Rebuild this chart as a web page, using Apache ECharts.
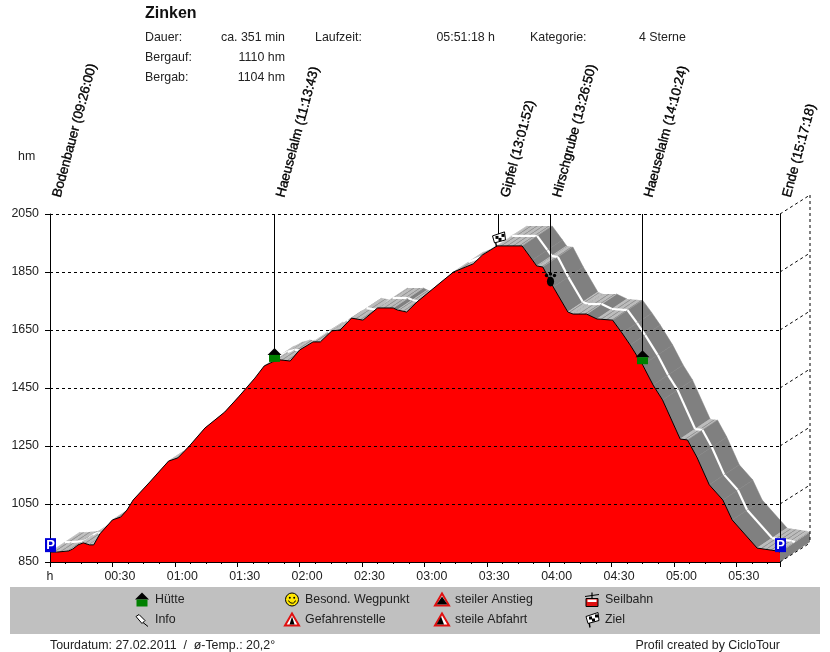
<!DOCTYPE html>
<html>
<head>
<meta charset="utf-8">
<style>html,body{margin:0;padding:0;background:#fff}#c{width:830px;height:652px}</style>
<script src="https://cdn.jsdelivr.net/npm/echarts@6/dist/echarts.min.js"></script>
</head>
<body>
<div id="c"></div>
<script>
// ---------- data ----------
var minutes = [0,3,9,11,13.5,16,19,21,24,30,34,37,40,48,57,61.5,67,74.5,84,91,98.5,103,107,110.5,115.5,120,126.5,130,135.5,139.5,145,150.5,157.5,165,167,171.5,176.5,187.5,194,203.5,208,215,227,232,234,237,242,249,251.5,258,263,270.5,275,279,285,290,294.5,303,306.5,311,317,323.5,328,340,349.5,351];
var elevation = [884,884,888,895,909,916,909,909,947,995,1005,1029,1064,1126,1198,1209,1250,1312,1367,1422,1484,1526,1540,1547,1543,1581,1609,1609,1647,1650,1691,1684,1726,1726,1719,1712,1747,1812,1850,1878,1909,1940,1940,1891,1871,1867,1798,1712,1705,1705,1688,1684,1640,1598,1529,1460,1409,1274,1271,1212,1116,1064,995,898,888,884];
var wayNames = ['Bodenbauer (09:26:00)','Haeuselalm (11:13:43)','Gipfel (13:01:52)','Hirschgrube (13:26:50)','Haeuselalm (14:10:24)','Ende (15:17:18)'];
var wayTimes = [0,107.5,215.5,240.5,284.5,351];
var wayElev = [884,1540,1940,1805,1532,884];
var wayIcons = ['park','hut','flag','paw','hut','park'];
var yTicks = [850,1050,1250,1450,1650,1850,2050];
var legendCol1 = ['Hütte','Info'];
var legendCol2 = ['Besond. Wegpunkt','Gefahrenstelle'];
var legendCol3 = ['steiler Anstieg','steile Abfahrt'];
var legendCol4 = ['Seilbahn','Ziel'];

// ---------- styling ----------
var FONT = '"Liberation Sans", Arial, sans-serif';
var TXT = '#222';
var DX = 30, DY = -20;

function hatch() {
  var c = document.createElement('canvas'); c.width = 6; c.height = 4;
  var g = c.getContext('2d');
  g.fillStyle = '#bcbcbc'; g.fillRect(0,0,6,4);
  g.strokeStyle = '#909090'; g.lineWidth = 1;
  g.beginPath(); g.moveTo(0,4); g.lineTo(6,0); g.stroke();
  return c;
}
var hatchFill = {image: hatch(), repeat: 'repeat'};

function icon(kind, cx, by) {
  var k = [];
  if (kind === 'hut') {
    k.push({type:'polygon',shape:{points:[[cx-7,by-7],[cx,by-14],[cx+7,by-7]]},style:{fill:'#000'}});
    k.push({type:'rect',shape:{x:cx-5.5,y:by-7,width:11,height:7},style:{fill:'#008000'}});
  } else if (kind === 'park') {
    k.push({type:'rect',shape:{x:cx-5.5,y:by-14,width:11,height:14},style:{fill:'#0000d8'}});
    k.push({type:'text',style:{text:'P',x:cx,y:by-7,align:'center',verticalAlign:'middle',fill:'#fff',font:'bold 13px '+FONT}});
  } else if (kind === 'flag') {
    k.push({type:'line',shape:{x1:cx-2,y1:by+1,x2:cx-4,y2:by-10},style:{stroke:'#000',lineWidth:1.4}});
    k.push({type:'polygon',shape:{points:[[cx-6,by-10],[cx+6,by-14],[cx+7,by-6],[cx-4,by-3]]},style:{fill:'#fff',stroke:'#000',lineWidth:1}});
    k.push({type:'rect',shape:{x:cx-3,y:by-10,width:3,height:3},style:{fill:'#000'}});
    k.push({type:'rect',shape:{x:cx+3,y:by-12,width:3,height:3},style:{fill:'#000'}});
    k.push({type:'rect',shape:{x:cx,y:by-8,width:3,height:3},style:{fill:'#000'}});
  } else if (kind === 'paw') {
    k.push({type:'ellipse',shape:{cx:cx,cy:by-3.5,rx:3.6,ry:5},style:{fill:'#000'}});
    [[-4,-9.5],[0,-11],[4,-9.5]].forEach(function (d) {
      k.push({type:'circle',shape:{cx:cx+d[0],cy:by+d[1],r:1.7},style:{fill:'#000'}});
    });
  } else if (kind === 'pin') {
    k.push({type:'polygon',shape:{points:[[cx-6,by-10],[cx-3,by-12],[cx+3,by-6],[cx,by-3]]},style:{fill:'#fff',stroke:'#000',lineWidth:1}});
    k.push({type:'line',shape:{x1:cx+1,y1:by-4,x2:cx+6,y2:by},style:{stroke:'#000',lineWidth:1}});
  } else if (kind === 'smile') {
    k.push({type:'circle',shape:{cx:cx,cy:by-7,r:6.5},style:{fill:'#ffe600',stroke:'#000',lineWidth:1}});
    k.push({type:'circle',shape:{cx:cx-2.2,cy:by-8.8,r:1},style:{fill:'#000'}});
    k.push({type:'circle',shape:{cx:cx+2.2,cy:by-8.8,r:1},style:{fill:'#000'}});
    k.push({type:'arc',shape:{cx:cx,cy:by-7,r:3.6,startAngle:0.3,endAngle:Math.PI-0.3},style:{fill:null,stroke:'#000',lineWidth:1}});
  } else if (kind === 'danger') {
    k.push({type:'polygon',shape:{points:[[cx,by-13],[cx+7,by-1],[cx-7,by-1]]},style:{fill:'#fff',stroke:'#e01010',lineWidth:2}});
    k.push({type:'polygon',shape:{points:[[cx,by-10],[cx+2.5,by-2],[cx-2.5,by-2]]},style:{fill:'#000'}});
  } else if (kind === 'up' || kind === 'down') {
    k.push({type:'polygon',shape:{points:[[cx,by-13],[cx+7,by-1],[cx-7,by-1]]},style:{fill:'#fff',stroke:'#e01010',lineWidth:2}});
    k.push({type:'polygon',shape:{points: kind === 'up' ? [[cx,by-10],[cx+5.5,by-2],[cx-5.5,by-2]] : [[cx-1,by-10],[cx+2,by-2],[cx-5.5,by-2]]},style:{fill:'#000'}});
  } else if (kind === 'cable') {
    k.push({type:'line',shape:{x1:cx-7,y1:by-10,x2:cx+7,y2:by-12},style:{stroke:'#000',lineWidth:1}});
    k.push({type:'line',shape:{x1:cx,y1:by-14,x2:cx,y2:by-8},style:{stroke:'#000',lineWidth:1.2}});
    k.push({type:'rect',shape:{x:cx-6,y:by-8,width:12,height:8},style:{fill:'#e01010',stroke:'#000',lineWidth:1}});
    k.push({type:'rect',shape:{x:cx-4.5,y:by-7,width:9,height:2.5},style:{fill:'#fff'}});
  }
  return k;
}

function text(t, x, y, extra) {
  var s = {text:t, x:x, y:y, fill:TXT, font:'12.4px '+FONT, verticalAlign:'middle', align:'left'};
  for (var e in extra) s[e] = extra[e];
  return {type:'text', silent:true, style:s};
}

var graphicEls = [
  {type:'rect',z:-1,silent:true,shape:{x:10,y:587,width:810,height:47},style:{fill:'#c0c0c0'}},
  text('Zinken',145,13.5,{font:'bold 16px '+FONT,fill:'#111'}),
  text('Dauer:',145,37.5), text('ca. 351 min',285,37.5,{align:'right'}),
  text('Laufzeit:',315,37.5), text('05:51:18 h',495,37.5,{align:'right'}),
  text('Kategorie:',530,37.5), text('4 Sterne',639,37.5),
  text('Bergauf:',145,57.5), text('1110 hm',285,57.5,{align:'right'}),
  text('Bergab:',145,77.5), text('1104 hm',285,77.5,{align:'right'}),
  text('hm',18,156.5),
  text('Tourdatum: 27.02.2011  /  ø-Temp.: 20,2°',50,645.5),
  text('Profil created by CicloTour',780,645.5,{align:'right'})
];
[[legendCol1,155,142,['hut','pin']],[legendCol2,305,292,['smile','danger']],[legendCol3,455,442,['up','down']],[legendCol4,605,592,['cable','flag']]].forEach(function (col) {
  col[0].forEach(function (t, i) {
    var y = 599.5 + i * 20;
    graphicEls.push(text(t, col[1], y));
    graphicEls.push({type:'group',silent:true,children:icon(col[3][i], col[2], y + 7)});
  });
});

var profile = minutes.map(function (m, i) { return [m, elevation[i]]; });
var segments = [];
for (var i = 0; i < minutes.length - 1; i++) segments.push([minutes[i], elevation[i], minutes[i+1], elevation[i+1]]);
var lastT = minutes[minutes.length-1], lastE = elevation[elevation.length-1];

var option = {
  animation:false,
  backgroundColor:'#fff',
  textStyle:{fontFamily:FONT},
  graphic:{elements:graphicEls},
  grid:{left:50,right:50,top:214,bottom:90,containLabel:false},
  xAxis:{type:'value',min:0,max:351,interval:30,z:3,
    axisLine:{onZero:false,lineStyle:{color:'#000',width:1}},
    axisTick:{length:5,lineStyle:{color:'#000'}},
    minorTick:{show:true,splitNumber:4,length:2,lineStyle:{color:'#000'}},
    splitLine:{show:false},minorSplitLine:{show:false},
    axisLabel:{margin:9,color:TXT,fontSize:12.4,fontFamily:FONT,showMaxLabel:false,hideOverlap:false,
      formatter:function (v) {
        if (v === 0) return 'h';
        if (v % 30) return '';
        var h = Math.floor(v/60), m = v%60;
        return '{t|0'+h+':'+(m<10?'0':'')+m+'}';
      },
      rich:{t:{padding:[0,0,0,15],color:TXT,fontSize:12.4,fontFamily:FONT}}
    }
  },
  yAxis:{type:'value',min:850,max:2050,interval:200,z:3,
    axisLine:{show:true,onZero:false,lineStyle:{color:'#000',width:1}},
    axisTick:{show:true,length:5,lineStyle:{color:'#000'}},
    axisLabel:{margin:11,color:TXT,fontSize:12.4,fontFamily:FONT,formatter:function (v) { return String(v); }},
    splitLine:{show:true,lineStyle:{color:'#000',type:[3,3],width:1}}
  },
  series:[
    {type:'custom',z:1,silent:true,coordinateSystem:'cartesian2d',data:segments,clip:false,
      encode:{x:[0,2],y:[1,3]},
      renderItem:function (p, api) {
        var a = api.coord([api.value(0),api.value(1)]), b = api.coord([api.value(2),api.value(3)]);
        var slope = (b[1]-a[1])/(b[0]-a[0]);
        var steep = slope > 0.45;
        var fill = steep ? '#808080' : hatchFill;
        var kids = [{type:'polygon',shape:{points:[a,b,[b[0]+DX,b[1]+DY],[a[0]+DX,a[1]+DY]]},style:{fill:fill,stroke:steep?'#808080':null,lineWidth:0.5}}];
        if (slope < 0.9) kids.push({type:'line',shape:{x1:a[0],y1:a[1],x2:a[0]+DX,y2:a[1]+DY},style:{stroke:'#c0c0c0',lineWidth:0.8}});
        kids.push({type:'line',shape:{x1:a[0]+DX/2,y1:a[1]+DY/2,x2:b[0]+DX/2,y2:b[1]+DY/2},style:{stroke:'#fff',lineWidth:2.2}});
        return {type:'group',children:kids};
      }
    },
    {type:'custom',z:1,silent:true,coordinateSystem:'cartesian2d',data:[[lastT,lastE]],clip:false,
      renderItem:function (p, api) {
        var a = api.coord([api.value(0),api.value(1)]), b = api.coord([api.value(0),850]);
        return {type:'polygon',shape:{points:[a,[a[0]+DX,a[1]+DY],[b[0]+DX,b[1]+DY],b]},style:{fill:'#808080'}};
      }
    },
    {type:'line',z:2,silent:true,data:profile,symbol:'none',smooth:false,
      lineStyle:{color:'#000',width:1},areaStyle:{color:'#ff0000',opacity:1}
    },
    {type:'custom',z:4,silent:true,coordinateSystem:'cartesian2d',data:yTicks.map(function (v) { return [lastT,v]; }),clip:false,
      renderItem:function (p, api) {
        var a = api.coord([api.value(0),api.value(1)]);
        var kids = [{type:'line',shape:{x1:a[0],y1:a[1],x2:a[0]+DX,y2:a[1]+DY+1},style:{stroke:'#000',lineWidth:1,lineDash:[3,3]}}];
        if (p.dataIndex === 0) {
          var t = api.coord([api.value(0),yTicks[yTicks.length-1]]);
          kids.push({type:'line',shape:{x1:t[0]+DX,y1:t[1]+DY+1,x2:a[0]+DX,y2:a[1]+DY},style:{stroke:'#000',lineWidth:1,lineDash:[3,3]}});
        }
        return {type:'group',children:kids};
      }
    },
    {type:'custom',z:5,silent:true,coordinateSystem:'cartesian2d',clip:false,
      data:wayTimes.map(function (t,i) { return [t,wayElev[i]]; }),
      renderItem:function (p, api) {
        var i = p.dataIndex;
        var pt = api.coord([api.value(0),api.value(1)]);
        var top = api.coord([api.value(0),2050]);
        var gap = wayIcons[i] === 'paw' ? 11 : 8;
        var kids = [{type:'line',shape:{x1:Math.round(pt[0])+0.5,y1:top[1],x2:Math.round(pt[0])+0.5,y2:pt[1]-gap},style:{stroke:'#000',lineWidth:1}}];
        kids = kids.concat(icon(wayIcons[i],Math.round(pt[0])+0.5,pt[1]));
        kids.push({type:'text',x:top[0]+7,y:top[1]-17,rotation:75*Math.PI/180,
          style:{text:wayNames[i],x:0,y:0,align:'left',verticalAlign:'middle',fill:'#000',stroke:'#000',lineWidth:0.35,font:'13.4px '+FONT}});
        return {type:'group',children:kids};
      }
    }
  ]
};
var chart = echarts.init(document.getElementById('c'),null,{renderer:'canvas'});
chart.setOption(option);
</script>
</body>
</html>
